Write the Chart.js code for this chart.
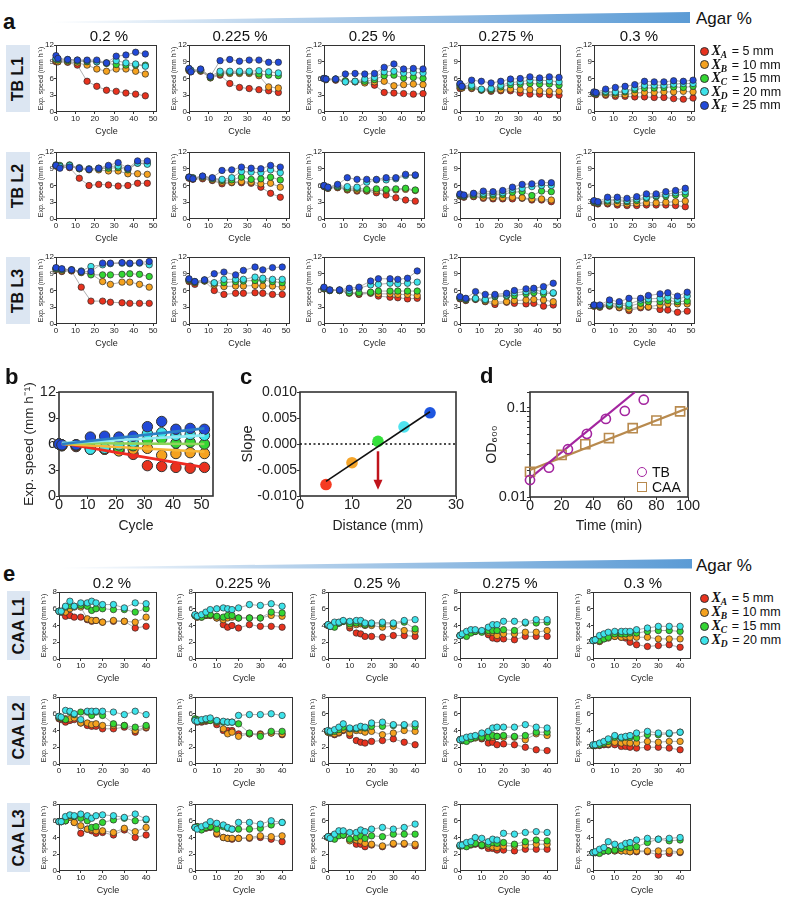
<!DOCTYPE html>
<html><head><meta charset="utf-8">
<script src="https://cdn.jsdelivr.net/npm/chart.js@4.4.1/dist/chart.umd.min.js"></script>
<style>
body{margin:0;background:#fff;width:785px;height:900px;position:relative;overflow:hidden;font-family:"Liberation Sans",Arial,Helvetica,sans-serif;color:#111;}
canvas{position:absolute;}
.plab{position:absolute;font-weight:bold;font-size:22px;line-height:22px;}
.colh{position:absolute;font-size:15px;line-height:15px;transform:translate(-50%,-50%);white-space:nowrap;}
.agar{position:absolute;font-size:17px;line-height:17px;transform:translateY(-50%);white-space:nowrap;}
.rowl{position:absolute;background:#dce6f2;}
.rowl span{position:absolute;left:50%;top:50%;transform:translate(-50%,-50%) rotate(-90deg);font-weight:bold;font-size:16px;line-height:16px;white-space:nowrap;}
.leg{position:absolute;transform:translateY(-50%);display:flex;align-items:center;white-space:nowrap;height:14px;}
.dot{width:9px;height:9px;border-radius:50%;border:1px solid #333;box-sizing:border-box;margin-right:3px;}
.xv{font-family:"Liberation Serif","Times New Roman",serif;font-weight:bold;font-style:italic;font-size:14px;line-height:14px;}
.xv sub{font-size:9.5px;vertical-align:-3px;line-height:0;}
.eq{font-size:12.5px;line-height:14px;margin-left:1px;}
.dleg{position:absolute;display:flex;align-items:center;transform:translateY(-50%);font-size:14px;white-space:nowrap;}
</style></head><body>
<svg style="position:absolute;left:0;top:0" width="785" height="900">
<defs><linearGradient id="gw" x1="0" x2="1" y1="0" y2="0"><stop offset="0" stop-color="#ffffff"/><stop offset="0.35" stop-color="#b9d3ec"/><stop offset="1" stop-color="#5b9bd5"/></linearGradient></defs>
<polygon points="52,21.5 690,12 690,23 52,23" fill="url(#gw)"/>
<polygon points="60,567.5 692,559 692,568.5 60,568.5" fill="url(#gw)"/>
</svg>
<script>
// ---------------- DATA ----------------
const agarLabels = ['0.2 %', '0.225 %', '0.25 %', '0.275 %', '0.3 %'];
const tbRowLabels = ['TB L1', 'TB L2', 'TB L3'];
const caaRowLabels = ['CAA L1', 'CAA L2', 'CAA L3'];
const legendLetters = ['A', 'B', 'C', 'D', 'E'];
const legendDistances = [5, 10, 15, 20, 25];

const tbCycL1 = [0, 1, 6, 11, 16, 21, 26, 31, 36, 41, 46];
const tbCycL1b = [0, 1, 6, 11, 16, 21, 26, 31, 36, 41, 46, 51];
const tbCycL2 = [0, 2, 7, 12, 17, 22, 27, 32, 37, 42, 47];
const tbCycL3 = [0, 3, 8, 13, 18, 24, 28, 34, 38, 43, 48];
const caaCycles = [0, 1, 3, 5, 7, 10, 13, 15, 17, 20, 25, 30, 35, 40];

// TB series order: X_A (5 mm), X_B, X_C, X_D, X_E (25 mm)
const tbL1_020 = [
  [9.0, 9.0, 8.9, 8.4, 5.5, 4.6, 3.9, 3.7, 3.4, 3.2, 2.9],
  [9.2, 9.0, 9.0, 8.8, 8.4, 7.7, 7.3, 7.7, 7.7, 7.3, 6.8],
  [9.5, 9.3, 9.2, 9.1, 9.0, 9.0, 8.7, 8.5, 8.4, 8.4, 8.4],
  [9.6, 9.5, 9.4, 9.3, 9.2, 9.0, 8.8, 9.2, 8.8, 8.6, 8.2],
  [10.1, 9.6, 9.4, 9.3, 9.3, 9.3, 8.8, 10.0, 10.2, 10.7, 10.4]];
const tbL1_0225 = [
  [7.4, 7.2, 7.3, 6.1, 6.6, 5.1, 4.4, 4.2, 4.0, 3.8, 3.5],
  [7.5, 7.3, 7.4, 6.2, 6.8, 6.9, 6.9, 6.9, 6.5, 4.5, 4.3],
  [7.6, 7.4, 7.5, 6.2, 7.0, 7.1, 7.1, 7.1, 6.8, 6.6, 6.5],
  [7.8, 7.5, 7.6, 6.4, 7.3, 7.3, 7.3, 7.3, 7.4, 7.2, 7.0],
  [7.8, 7.2, 7.7, 6.4, 9.2, 9.4, 9.1, 9.3, 9.3, 8.9, 8.9]];
const tbL1_025 = [
  [6.0, 5.8, 5.7, 5.4, 5.4, 5.3, 4.8, 3.5, 3.4, 3.3, 3.2, 3.3],
  [6.0, 5.8, 5.8, 5.5, 5.4, 5.2, 5.4, 5.5, 4.7, 4.9, 5.0, 4.9],
  [6.0, 5.9, 5.9, 5.6, 5.5, 5.5, 5.8, 6.5, 6.6, 6.1, 6.2, 6.0],
  [6.0, 5.9, 5.9, 5.4, 5.5, 5.9, 6.2, 7.2, 7.3, 7.0, 7.1, 7.0],
  [6.0, 5.9, 5.9, 6.8, 6.9, 6.8, 6.9, 8.0, 8.6, 7.7, 7.8, 7.7]];
const tbL1_0275 = [
  [4.2, 4.3, 4.2, 3.9, 3.7, 3.8, 3.8, 3.4, 3.2, 3.2, 3.1, 3.0],
  [4.5, 4.3, 4.3, 4.0, 3.9, 4.0, 4.1, 4.0, 4.0, 3.8, 3.7, 3.7],
  [4.8, 4.5, 4.5, 4.0, 4.0, 4.5, 4.9, 5.0, 5.1, 5.0, 5.0, 4.8],
  [5.0, 4.6, 4.8, 4.1, 4.2, 4.8, 5.3, 5.4, 5.7, 5.7, 5.6, 5.4],
  [5.1, 4.6, 5.7, 5.5, 5.2, 5.5, 5.9, 6.0, 6.3, 6.1, 6.3, 6.2]];
const tbL1_030 = [
  [3.3, 3.1, 3.0, 2.8, 2.8, 2.7, 2.7, 2.6, 2.6, 2.4, 2.3, 2.5],
  [3.3, 3.2, 3.2, 3.1, 3.1, 3.4, 3.5, 3.5, 3.6, 3.6, 3.7, 3.6],
  [3.4, 3.3, 3.5, 3.4, 3.6, 4.0, 4.3, 4.3, 4.4, 4.5, 4.4, 4.6],
  [3.5, 3.4, 3.7, 3.6, 3.8, 4.3, 4.8, 4.8, 4.8, 5.0, 5.1, 5.1],
  [3.6, 3.5, 4.1, 4.4, 4.6, 4.9, 5.5, 5.4, 5.4, 5.6, 5.5, 5.7]];
const tbL2_020 = [
  [9.5, 9.3, 9.2, 7.3, 6.0, 6.2, 6.1, 5.9, 6.0, 6.4, 6.4],
  [9.5, 9.4, 9.5, 9.0, 8.8, 8.8, 8.6, 8.6, 8.1, 8.1, 8.0],
  [9.7, 9.6, 9.7, 9.0, 8.9, 9.0, 9.1, 9.2, 8.8, 10.0, 10.0],
  [9.6, 9.4, 9.6, 9.2, 9.0, 9.1, 9.4, 9.5, 9.0, 10.0, 9.8],
  [9.6, 9.1, 9.3, 9.1, 8.9, 9.1, 9.6, 10.1, 9.1, 10.4, 10.4]];
const tbL2_0225 = [
  [7.3, 7.1, 7.2, 6.9, 6.3, 6.5, 6.5, 6.4, 5.7, 4.6, 3.9],
  [7.4, 7.2, 7.4, 7.0, 6.6, 6.6, 6.7, 6.6, 6.3, 6.4, 5.7],
  [7.5, 7.4, 7.6, 7.2, 6.9, 7.0, 7.5, 7.1, 7.2, 7.5, 7.0],
  [7.5, 7.3, 7.6, 7.3, 7.1, 7.4, 8.5, 8.4, 8.3, 8.8, 8.3],
  [7.5, 7.2, 7.7, 7.4, 8.7, 8.8, 9.3, 9.1, 9.0, 9.6, 9.3]];
const tbL2_025 = [
  [5.8, 5.5, 5.6, 5.2, 5.0, 5.0, 4.7, 4.3, 3.8, 3.4, 3.2],
  [5.9, 5.5, 5.7, 5.3, 5.2, 5.1, 5.1, 5.1, 5.2, 5.3, 5.1],
  [5.9, 5.6, 5.8, 5.5, 5.5, 5.3, 5.4, 5.3, 5.4, 5.5, 5.2],
  [6.0, 5.7, 6.0, 5.8, 5.7, 6.6, 7.0, 7.0, 7.2, 7.8, 7.8],
  [6.0, 5.7, 6.2, 7.4, 7.1, 7.1, 7.1, 7.4, 7.4, 8.0, 7.9]];
const tbL2_0275 = [
  [4.1, 3.9, 4.0, 3.7, 3.6, 3.6, 3.6, 3.7, 3.4, 3.4, 3.1],
  [4.2, 4.0, 4.1, 3.9, 3.8, 3.8, 3.9, 3.8, 3.6, 3.6, 3.4],
  [4.3, 4.1, 4.3, 4.3, 4.3, 4.4, 4.8, 4.9, 4.2, 5.0, 4.9],
  [4.4, 4.2, 4.5, 4.6, 4.6, 4.7, 5.3, 5.5, 5.8, 6.0, 6.0],
  [4.5, 4.3, 4.6, 5.0, 4.9, 5.1, 5.7, 6.2, 6.3, 6.5, 6.5]];
const tbL2_030 = [
  [2.9, 2.7, 2.7, 2.5, 2.4, 2.4, 2.5, 2.5, 2.5, 2.4, 2.2],
  [3.0, 2.8, 2.9, 2.8, 2.7, 2.8, 2.9, 2.9, 3.0, 3.1, 3.2],
  [3.1, 2.9, 3.2, 3.3, 3.1, 3.3, 3.7, 4.0, 4.1, 4.3, 4.4],
  [3.2, 3.0, 3.4, 3.5, 3.3, 3.6, 3.9, 4.2, 4.4, 4.7, 4.9],
  [3.3, 3.1, 3.9, 3.9, 3.7, 4.0, 4.5, 4.5, 4.9, 5.1, 5.5]];
const tbL3_020 = [
  [9.8, 9.4, 9.5, 6.6, 4.1, 4.1, 3.9, 3.8, 3.7, 3.7, 3.7],
  [9.8, 9.5, 9.6, 9.2, 9.0, 7.6, 7.1, 7.5, 7.5, 7.1, 6.6],
  [9.9, 9.7, 9.7, 9.3, 8.8, 8.8, 8.8, 8.9, 9.0, 8.9, 8.5],
  [10.0, 9.8, 9.7, 9.5, 10.3, 10.6, 10.8, 10.9, 10.8, 10.9, 10.6],
  [10.1, 9.9, 9.7, 9.4, 9.4, 10.9, 10.9, 11.0, 10.9, 11.0, 11.2]];
const tbL3_0225 = [
  [7.6, 7.1, 7.7, 6.0, 5.3, 5.5, 5.5, 5.6, 5.5, 5.3, 5.3],
  [7.8, 7.4, 7.7, 7.0, 6.7, 6.8, 6.8, 6.9, 6.8, 6.8, 6.6],
  [7.9, 7.5, 7.8, 7.3, 7.4, 7.6, 7.7, 7.8, 7.9, 7.6, 7.4],
  [8.0, 7.6, 7.9, 7.4, 8.0, 8.0, 8.0, 8.4, 8.2, 8.0, 8.0],
  [8.1, 7.6, 7.9, 9.0, 9.3, 8.8, 9.6, 10.2, 9.7, 10.1, 10.2]];
const tbL3_025 = [
  [6.3, 6.0, 6.0, 5.6, 5.3, 5.5, 5.0, 4.8, 4.7, 4.5, 4.6],
  [6.3, 6.0, 6.0, 5.5, 5.4, 5.6, 5.4, 5.4, 5.3, 5.3, 5.1],
  [6.4, 6.0, 6.0, 5.6, 5.6, 5.7, 5.9, 5.9, 5.9, 5.9, 5.9],
  [6.5, 6.1, 6.1, 6.0, 6.4, 7.0, 7.1, 7.3, 7.2, 7.3, 7.5],
  [6.6, 6.1, 6.1, 6.4, 6.6, 7.7, 8.1, 8.1, 8.0, 8.2, 9.5]];
const tbL3_0275 = [
  [4.5, 4.2, 4.4, 4.0, 3.5, 3.9, 3.7, 3.6, 3.7, 3.2, 3.4],
  [4.6, 4.3, 4.5, 4.1, 3.9, 4.0, 4.2, 4.3, 4.4, 4.3, 4.0],
  [4.7, 4.4, 4.5, 4.3, 4.9, 5.0, 5.1, 5.4, 5.6, 5.4, 5.5],
  [4.8, 4.5, 4.6, 4.4, 5.1, 5.2, 5.6, 5.8, 6.1, 5.8, 5.6],
  [4.9, 4.6, 5.8, 5.3, 5.3, 5.5, 6.0, 6.3, 6.4, 6.7, 7.3]];
const tbL3_030 = [
  [3.2, 3.0, 3.2, 2.9, 2.4, 2.9, 3.0, 2.6, 2.5, 2.1, 2.3],
  [3.2, 3.1, 3.3, 3.0, 2.7, 3.1, 3.1, 3.4, 3.6, 3.6, 3.6],
  [3.3, 3.2, 3.4, 3.4, 3.2, 3.7, 4.0, 4.0, 4.2, 4.0, 4.1],
  [3.4, 3.3, 3.7, 3.6, 3.6, 4.3, 4.5, 4.6, 4.8, 4.4, 5.0],
  [3.4, 3.4, 4.3, 4.0, 4.6, 4.6, 5.1, 5.4, 5.6, 5.0, 5.7]];

// CAA series order: X_A (5 mm), X_B, X_C, X_D (20 mm)
const caaL1_020 = [
  [5.7, 5.6, 5.1, 5.2, 5.0, 5.0, 4.7, 4.5, 4.6, 4.4, 4.5, 4.5, 3.7, 3.9],
  [5.7, 5.6, 5.6, 6.0, 6.2, 6.2, 4.8, 4.6, 4.6, 4.4, 4.6, 4.5, 4.4, 5.0],
  [5.7, 5.7, 6.2, 6.4, 6.3, 6.4, 6.3, 5.8, 6.0, 6.0, 5.9, 5.9, 5.6, 6.0],
  [5.7, 5.7, 6.3, 6.9, 6.3, 6.7, 6.7, 6.9, 6.7, 6.5, 6.5, 6.1, 6.7, 6.6]];
const caaL1_0225 = [
  [5.2, 5.0, 5.1, 5.2, 5.2, 4.9, 4.1, 3.8, 4.0, 3.7, 4.1, 3.9, 3.9, 3.8],
  [5.2, 5.0, 5.0, 5.2, 5.2, 4.9, 4.7, 4.9, 5.0, 4.9, 4.9, 4.9, 5.2, 5.1],
  [5.2, 5.1, 5.0, 5.3, 5.3, 5.1, 5.0, 5.2, 5.2, 4.9, 4.9, 4.9, 5.6, 5.5],
  [5.3, 5.1, 5.3, 5.6, 5.9, 6.0, 6.1, 6.0, 5.9, 6.1, 6.5, 6.4, 6.6, 6.3]];
const caaL1_025 = [
  [4.0, 3.9, 4.2, 4.3, 4.5, 3.7, 3.1, 3.0, 2.7, 2.7, 2.6, 2.8, 2.8, 2.7],
  [4.0, 3.9, 4.2, 4.3, 4.5, 4.0, 4.1, 4.2, 4.0, 4.0, 3.8, 3.9, 3.4, 3.3],
  [4.1, 4.0, 3.8, 4.3, 4.5, 4.2, 4.3, 4.4, 4.1, 4.2, 4.2, 4.2, 4.4, 3.6],
  [4.1, 3.9, 4.4, 4.4, 4.6, 4.5, 4.6, 4.6, 4.3, 4.3, 4.4, 4.3, 4.6, 4.7]];
const caaL1_0275 = [
  [2.8, 2.9, 3.0, 3.2, 3.3, 3.3, 2.9, 2.5, 2.4, 2.4, 2.3, 2.7, 2.7, 2.7],
  [2.8, 2.9, 3.1, 3.2, 3.3, 3.3, 3.2, 3.2, 2.8, 3.0, 3.0, 3.2, 3.2, 3.4],
  [2.8, 2.9, 2.7, 3.1, 3.3, 3.2, 3.4, 3.4, 3.4, 3.5, 3.4, 4.3, 4.3, 4.4],
  [2.8, 3.0, 3.3, 3.5, 3.5, 3.4, 3.8, 4.1, 4.1, 4.5, 4.5, 4.4, 4.7, 4.7]];
const caaL1_030 = [
  [2.2, 2.3, 2.1, 2.4, 2.6, 2.7, 2.6, 2.5, 2.0, 1.7, 1.5, 1.6, 1.7, 1.4],
  [2.2, 2.3, 2.1, 2.5, 2.5, 2.7, 2.6, 2.7, 2.6, 2.6, 2.6, 2.4, 2.4, 2.4],
  [2.2, 2.3, 2.2, 2.4, 2.6, 3.0, 3.0, 3.0, 3.1, 3.1, 3.3, 3.4, 3.4, 3.3],
  [2.2, 2.3, 2.8, 3.0, 3.2, 3.3, 3.3, 3.3, 3.3, 3.5, 3.7, 3.9, 3.9, 3.9]];
const caaL2_020 = [
  [5.4, 5.3, 5.0, 5.2, 5.3, 4.9, 4.6, 4.5, 4.5, 4.2, 4.2, 4.4, 3.8, 4.3],
  [5.5, 5.5, 5.4, 5.4, 5.5, 4.9, 4.9, 4.7, 4.8, 4.6, 4.6, 4.6, 4.0, 4.4],
  [5.6, 5.5, 5.3, 6.2, 5.9, 6.2, 6.2, 5.8, 6.2, 5.8, 4.8, 4.6, 4.4, 4.6],
  [5.7, 5.6, 6.4, 6.3, 6.0, 5.3, 6.3, 6.3, 6.3, 6.3, 6.2, 5.9, 6.3, 5.9]];
const caaL2_0225 = [
  [5.2, 5.0, 5.0, 5.1, 5.2, 4.7, 4.0, 4.0, 4.0, 3.6, 3.6, 3.6, 3.7, 3.5],
  [5.3, 5.1, 5.1, 5.2, 5.3, 5.0, 4.2, 3.6, 3.8, 3.3, 3.6, 3.5, 3.7, 3.6],
  [5.4, 5.3, 5.2, 5.3, 5.2, 5.1, 5.0, 5.0, 5.0, 4.8, 3.7, 3.3, 3.9, 3.9],
  [5.2, 5.1, 5.3, 5.4, 5.5, 5.2, 5.1, 5.0, 5.0, 5.8, 5.9, 5.9, 6.0, 5.8]];
const caaL2_025 = [
  [3.8, 3.7, 3.5, 3.7, 4.0, 3.4, 2.8, 2.6, 2.5, 2.7, 2.8, 3.0, 2.6, 2.3],
  [3.8, 3.8, 3.6, 3.8, 4.1, 3.7, 4.0, 4.0, 3.8, 3.9, 3.5, 3.7, 4.0, 3.9],
  [3.9, 3.8, 3.9, 4.1, 4.4, 4.2, 4.2, 4.4, 4.3, 4.5, 4.5, 4.6, 4.6, 4.5],
  [4.0, 3.9, 4.1, 4.4, 4.8, 4.3, 4.3, 4.5, 4.4, 4.9, 5.0, 4.7, 4.7, 4.8]];
const caaL2_0275 = [
  [2.9, 2.8, 3.0, 3.1, 3.2, 3.0, 2.5, 2.6, 2.3, 2.4, 2.3, 2.0, 1.7, 1.6],
  [2.9, 2.9, 2.9, 3.0, 3.1, 3.1, 3.3, 3.2, 3.3, 3.2, 3.2, 2.9, 3.6, 3.4],
  [2.9, 2.8, 2.7, 3.0, 3.2, 3.2, 3.2, 3.4, 3.3, 3.4, 3.3, 3.4, 3.8, 3.8],
  [2.9, 3.0, 3.2, 3.3, 3.4, 3.7, 3.9, 4.3, 4.4, 4.4, 4.4, 4.7, 4.4, 4.3]];
const caaL2_030 = [
  [2.2, 2.2, 2.2, 2.3, 2.3, 2.3, 2.1, 2.1, 2.0, 1.9, 2.0, 2.0, 1.9, 1.7],
  [2.2, 2.2, 2.3, 2.4, 2.4, 2.6, 2.5, 2.6, 2.5, 2.5, 2.7, 2.6, 2.7, 2.7],
  [2.2, 2.3, 2.3, 2.5, 2.7, 3.2, 3.1, 3.2, 3.2, 3.1, 3.5, 3.5, 3.6, 3.8],
  [2.3, 2.3, 2.5, 2.7, 3.0, 3.4, 3.2, 3.3, 3.4, 3.7, 3.9, 3.7, 3.7, 3.8]];
const caaL3_020 = [
  [5.9, 5.9, 6.0, 6.5, 5.8, 4.5, 5.0, 4.8, 4.5, 4.6, 4.3, 4.9, 4.0, 4.3],
  [5.9, 5.9, 6.0, 6.4, 5.8, 5.4, 5.0, 5.0, 4.8, 4.8, 4.6, 5.1, 4.7, 5.2],
  [5.9, 5.9, 6.0, 6.6, 6.5, 6.3, 6.0, 5.2, 5.3, 5.8, 6.1, 6.3, 6.0, 6.1],
  [5.9, 5.9, 6.5, 6.7, 6.6, 6.8, 6.6, 6.3, 6.6, 6.7, 6.6, 6.4, 6.8, 6.2]];
const caaL3_0225 = [
  [5.2, 5.3, 5.1, 5.1, 5.2, 4.4, 4.0, 3.9, 3.8, 3.9, 3.9, 4.0, 3.8, 3.5],
  [5.2, 5.2, 5.1, 5.2, 5.3, 4.5, 4.0, 3.9, 3.9, 3.9, 4.0, 4.2, 4.1, 4.2],
  [5.2, 5.3, 4.9, 5.2, 5.3, 5.0, 5.3, 5.1, 5.0, 5.0, 5.0, 5.1, 5.5, 5.8],
  [5.2, 5.0, 5.3, 5.5, 5.9, 5.7, 5.5, 5.2, 5.0, 5.8, 5.8, 5.6, 6.0, 5.8]];
const caaL3_025 = [
  [4.0, 4.1, 4.2, 4.3, 4.3, 3.7, 3.2, 3.2, 2.9, 3.1, 2.9, 3.2, 3.2, 3.0],
  [4.0, 4.1, 4.3, 4.3, 4.3, 3.6, 3.7, 3.6, 3.3, 3.2, 3.0, 3.3, 3.3, 3.2],
  [4.1, 3.9, 3.8, 4.2, 4.3, 3.8, 4.0, 4.2, 3.9, 4.2, 4.1, 4.4, 4.4, 4.4],
  [4.1, 3.9, 4.4, 4.8, 4.8, 4.6, 4.6, 4.9, 4.7, 5.0, 5.2, 5.0, 5.2, 5.6]];
const caaL3_0275 = [
  [3.0, 3.1, 3.0, 3.1, 3.2, 3.0, 2.7, 2.7, 2.5, 2.5, 2.4, 2.6, 2.6, 2.6],
  [3.0, 3.1, 3.1, 3.2, 3.3, 3.1, 3.0, 2.9, 2.8, 3.0, 3.0, 3.1, 3.2, 3.2],
  [3.0, 3.0, 2.9, 3.2, 3.3, 3.1, 3.2, 3.4, 3.3, 3.4, 3.2, 3.5, 3.7, 3.6],
  [3.1, 3.1, 3.4, 3.5, 4.0, 3.9, 3.5, 3.8, 3.7, 4.5, 4.4, 4.6, 4.7, 4.6]];
const caaL3_030 = [
  [2.2, 2.2, 2.3, 2.4, 2.4, 2.4, 2.4, 2.4, 2.3, 2.3, 2.3, 1.9, 2.1, 2.2],
  [2.2, 2.2, 2.3, 2.4, 2.4, 2.4, 2.4, 2.4, 2.3, 2.4, 2.4, 2.4, 2.4, 2.3],
  [2.2, 2.2, 2.1, 2.4, 2.4, 2.5, 2.7, 2.9, 2.8, 2.9, 3.4, 3.8, 3.6, 3.7],
  [2.2, 2.3, 2.6, 2.8, 3.5, 3.2, 3.0, 3.3, 3.4, 3.7, 3.9, 3.8, 3.9, 4.0]];

// Panel b: TB L1 0.25 % data with linear fits
const bFitCycles = [1, 51];
const bFitA = [6.1, 3.3];
const bFitB = [6.0, 5.1];
const bFitC = [6.1, 6.0];
const bFitD = [6.1, 7.0];
const bFitE = [6.0, 7.8];

// Panel c
const cDistance = [5, 10, 15, 20, 25];
const cSlope = [-0.0078, -0.0036, 0.0005, 0.0033, 0.0060];
const cFitDistance = [5, 25];
const cFitSlope = [-0.0072, 0.0062];
const cZeroX = [0, 30];
const cZeroY = [0, 0];
const cArrowDistance = 15;
const cArrowFrom = -0.0014;
const cArrowTo = -0.0088;

// Panel d
const dTbTime = [0, 12, 24, 36, 48, 60, 72];
const dTbOD = [0.0155, 0.0213, 0.0343, 0.051, 0.075, 0.092, 0.123];
const dCaaTime = [0, 20, 35, 50, 65, 80, 95];
const dCaaOD = [0.0192, 0.0296, 0.039, 0.0457, 0.059, 0.072, 0.091];
const dTbFitTime = [0, 66.5];
const dTbFitOD = [0.0163, 0.15];
const dCaaFitTime = [0, 100];
const dCaaFitOD = [0.0201, 0.099];

// ---------------- STYLE / LAYOUT ----------------
const seriesColors = ['#E8321E', '#F5A21F', '#33D633', '#3DE3EA', '#2149D8'];
const cColors = ['#F53B22', '#F5A52A', '#36E03B', '#4FE3F0', '#1E56E0'];
const bFitColors = ['#EE2B22', '#F6B638', '#8FD45A', '#8EE8F0', '#2A7FC4'];
const tbLeft = [56, 189, 324, 460, 594], tbTop = [45, 152, 257], tbW = 101, tbH = 67;
const caaLeft = [59, 195, 328, 460, 593], caaTop = [592, 697, 804], caaW = 98, caaH = 67;

Chart.defaults.font.family = '"Liberation Sans", Arial, Helvetica, sans-serif';
Chart.defaults.color = '#222';
Chart.defaults.animation = false;
Chart.defaults.events = [];
Chart.defaults.plugins.legend.display = false;
Chart.defaults.plugins.tooltip.enabled = false;

const framePlugin = {
  id: 'frame',
  defaults: {width: 1, color: '#333', offset: 0.5},
  beforeDatasetsDraw(chart, args, o) {
    const a = chart.chartArea, ctx = chart.ctx;
    ctx.save();
    ctx.strokeStyle = o.color; ctx.lineWidth = o.width;
    const l = Math.round(a.left) + o.offset, t = Math.round(a.top) + o.offset;
    const r = Math.round(a.right) - o.offset, b = Math.round(a.bottom) - o.offset;
    ctx.strokeRect(l, t, r - l, b - t);
    ctx.restore();
  }
};
Chart.register(framePlugin);

const arrowPlugin = {
  id: 'arrow',
  afterDatasetsDraw(chart, args, o) {
    const xs = chart.scales.x, ys = chart.scales.y, ctx = chart.ctx;
    const x = xs.getPixelForValue(o.x), y1 = ys.getPixelForValue(o.y1), y2 = ys.getPixelForValue(o.y2);
    ctx.save();
    ctx.strokeStyle = o.color; ctx.fillStyle = o.color; ctx.lineWidth = 2.5;
    ctx.beginPath(); ctx.moveTo(x, y1); ctx.lineTo(x, y2 - 8); ctx.stroke();
    ctx.beginPath(); ctx.moveTo(x - 4.5, y2 - 10); ctx.lineTo(x + 4.5, y2 - 10); ctx.lineTo(x, y2); ctx.closePath(); ctx.fill();
    ctx.restore();
  }
};

function axis(opt) {
  return {
    type: opt.type || 'linear', min: opt.min, max: opt.max,
    ticks: Object.assign({stepSize: opt.step, includeBounds: false, autoSkip: false, maxRotation: 0,
      font: {size: opt.tickSize, lineHeight: opt.lh || 1.2}, padding: opt.pad || 0, color: '#222'}, opt.ticks || {}),
    grid: {display: true, drawOnChartArea: false, drawTicks: true, tickLength: opt.tl, tickColor: '#333', tickWidth: 1},
    border: {display: false},
    title: {display: true, text: opt.title, font: {size: opt.titleSize}, padding: {top: 0, bottom: 0}, color: '#222'}
  };
}

function makeChart(box, pad, config) {
  const c = document.createElement('canvas');
  const w = box.w + pad.l + pad.r, h = box.h + pad.t + pad.b;
  c.width = w; c.height = h;
  c.style.left = (box.x - pad.l) + 'px'; c.style.top = (box.y - pad.t) + 'px';
  c.style.width = w + 'px'; c.style.height = h + 'px';
  document.body.appendChild(c);
  config.options.responsive = false;
  config.options.devicePixelRatio = 1;
  config.options.layout = {padding: {top: pad.t, right: pad.r, left: 0, bottom: 0}};
  config.options.scales.x.afterFit = s => { s.height = pad.b; };
  config.options.scales.y.afterFit = s => { s.width = pad.l; };
  return new Chart(c, config);
}

function smallChart(box, cycles, series, xMax, yMax, yStep) {
  const n = series.length;
  const datasets = series.map((vals, i) => ({
    data: cycles.map((c, j) => ({x: c, y: vals[j]})),
    showLine: true, borderColor: '#9a9a9a', borderWidth: 0.8,
    pointRadius: 3.2, pointBackgroundColor: seriesColors[i], pointBorderColor: '#2b2b2b', pointBorderWidth: 0.7,
    order: n - 1 - i, clip: false
  }));
  return makeChart(box, {l: 19, t: 8, r: 8, b: 25}, {
    type: 'scatter', data: {datasets},
    options: {
      scales: {
        x: axis({min: 0, max: xMax, step: 10, tickSize: 8, tl: 2, title: 'Cycle', titleSize: 9}),
        y: axis({min: 0, max: yMax, step: yStep, tickSize: 8, tl: 2, title: 'Exp. speed (mm h⁻¹)', titleSize: 7})
      }
    }
  });
}

// ---------------- PANEL a ----------------
const tbData = [
  [tbL1_020, tbL1_0225, tbL1_025, tbL1_0275, tbL1_030],
  [tbL2_020, tbL2_0225, tbL2_025, tbL2_0275, tbL2_030],
  [tbL3_020, tbL3_0225, tbL3_025, tbL3_0275, tbL3_030]];
const tbCycles = [
  [tbCycL1, tbCycL1, tbCycL1b, tbCycL1b, tbCycL1b],
  [tbCycL2, tbCycL2, tbCycL2, tbCycL2, tbCycL2],
  [tbCycL3, tbCycL3, tbCycL3, tbCycL3, tbCycL3]];
tbData.forEach((row, r) => row.forEach((series, c) => {
  smallChart({x: tbLeft[c], y: tbTop[r], w: tbW, h: tbH}, tbCycles[r][c], series, 52, 12, 3);
}));

// ---------------- PANEL e ----------------
const caaData = [
  [caaL1_020, caaL1_0225, caaL1_025, caaL1_0275, caaL1_030],
  [caaL2_020, caaL2_0225, caaL2_025, caaL2_0275, caaL2_030],
  [caaL3_020, caaL3_0225, caaL3_025, caaL3_0275, caaL3_030]];
caaData.forEach((row, r) => row.forEach((series, c) => {
  smallChart({x: caaLeft[c], y: caaTop[r], w: caaW, h: caaH}, caaCycles, series, 45, 8, 2);
}));

// ---------------- PANEL b ----------------
(function () {
  const fits = [bFitA, bFitB, bFitC, bFitD, bFitE];
  const ds = [];
  fits.forEach((f, i) => ds.push({
    data: bFitCycles.map((c, j) => ({x: c, y: f[j]})), showLine: true,
    borderColor: bFitColors[i], borderWidth: 2.6, pointRadius: 0, order: 4 - i
  }));
  tbL1_025.forEach((vals, i) => ds.push({
    data: tbCycL1b.map((c, j) => ({x: c, y: vals[j]})), showLine: false,
    pointRadius: 5.2, pointBackgroundColor: seriesColors[i], pointBorderColor: '#333', pointBorderWidth: 1,
    order: 14 - i, clip: false
  }));
  makeChart({x: 59, y: 392, w: 154, h: 104}, {l: 38, t: 10, r: 10, b: 39}, {
    type: 'scatter', data: {datasets: ds},
    options: {
      plugins: {frame: {width: 1.6, offset: 0}},
      scales: {
        x: axis({min: 0, max: 54, step: 10, tickSize: 14.5, lh: 1, tl: 3, pad: -1, title: 'Cycle', titleSize: 14}),
        y: axis({min: 0, max: 12, step: 3, tickSize: 14.5, tl: 3, title: 'Exp. speed (mm h⁻¹)', titleSize: 13.5})
      }
    }
  });
})();

// ---------------- PANEL c ----------------
(function () {
  const ds = [
    {data: cDistance.map((d, j) => ({x: d, y: cSlope[j]})), showLine: false, pointRadius: 5.8,
     pointBackgroundColor: cColors, pointBorderColor: cColors, pointBorderWidth: 0, order: 2, clip: false},
    {data: cFitDistance.map((d, j) => ({x: d, y: cFitSlope[j]})), showLine: true, borderColor: '#111',
     borderWidth: 1.6, pointRadius: 0, order: 1},
    {data: cZeroX.map((d, j) => ({x: d, y: cZeroY[j]})), showLine: true, borderColor: '#111',
     borderWidth: 1.3, borderDash: [2, 2.5], pointRadius: 0, order: 3}
  ];
  makeChart({x: 300, y: 392, w: 156, h: 104}, {l: 61, t: 10, r: 12, b: 39}, {
    type: 'scatter', data: {datasets: ds}, plugins: [arrowPlugin],
    options: {
      plugins: {frame: {width: 1.6, offset: 0}, arrow: {x: cArrowDistance, y1: cArrowFrom, y2: cArrowTo, color: '#C0141C'}},
      scales: {
        x: axis({min: 0, max: 30, step: 10, tickSize: 14.5, lh: 1, tl: 3, pad: -1, title: 'Distance (mm)', titleSize: 14}),
        y: axis({min: -0.01, max: 0.01, step: 0.005, tickSize: 14, tl: 3, title: 'Slope', titleSize: 14.5,
          ticks: {callback: v => Math.abs(v) < 1e-9 ? '0.000' : v.toFixed(3)}})
      }
    }
  });
})();

// ---------------- PANEL d ----------------
(function () {
  const purple = '#A3259F', brown = '#B88A4E';
  const ds = [
    {data: dTbFitTime.map((t, j) => ({x: t, y: dTbFitOD[j]})), showLine: true, borderColor: purple, borderWidth: 2.2, pointRadius: 0, order: 3},
    {data: dCaaFitTime.map((t, j) => ({x: t, y: dCaaFitOD[j]})), showLine: true, borderColor: brown, borderWidth: 2.2, pointRadius: 0, order: 4},
    {data: dTbTime.map((t, j) => ({x: t, y: dTbOD[j]})), showLine: false, pointStyle: 'circle', pointRadius: 4.6,
     pointBackgroundColor: 'rgba(255,255,255,0)', pointBorderColor: purple, pointBorderWidth: 1.6, order: 1, clip: false},
    {data: dCaaTime.map((t, j) => ({x: t, y: dCaaOD[j]})), showLine: false, pointStyle: 'rect', pointRadius: 6.4,
     pointBackgroundColor: 'rgba(255,255,255,0)', pointBorderColor: brown, pointBorderWidth: 1.6, order: 2, clip: false}
  ];
  makeChart({x: 530, y: 392, w: 158, h: 105}, {l: 46, t: 10, r: 14, b: 38}, {
    type: 'scatter', data: {datasets: ds},
    options: {
      plugins: {frame: {width: 1.6, offset: 0}},
      scales: {
        x: axis({min: 0, max: 100, step: 20, tickSize: 14.5, lh: 1, tl: 3, pad: -1, title: 'Time (min)', titleSize: 14}),
        y: axis({type: 'logarithmic', min: 0.01, max: 0.15, tickSize: 14.5, tl: 3, title: 'OD₆₀₀', titleSize: 14,
          ticks: {callback: v => { const l = Math.log10(v); return Math.abs(l - Math.round(l)) < 1e-6 ? String(+v.toPrecision(1)) : ''; }}})
      }
    }
  });
  // legend for d
  const items = [['TB', 'circle', purple, 472], ['CAA', 'square', brown, 487]];
  items.forEach(([label, shape, col, y]) => {
    const d = document.createElement('div');
    d.className = 'dleg'; d.style.left = '637px'; d.style.top = y + 'px';
    const mk = shape === 'circle'
      ? `<span style="display:inline-block;width:10px;height:10px;border:1.6px solid ${col};border-radius:50%;box-sizing:border-box;margin-right:5px"></span>`
      : `<span style="display:inline-block;width:10px;height:10px;border:1.6px solid ${col};box-sizing:border-box;margin-right:5px"></span>`;
    d.innerHTML = mk + '<span>' + label + '</span>';
    document.body.appendChild(d);
  });
})();

// ---------------- TEXT / LABELS ----------------
function addDiv(cls, html, css) {
  const d = document.createElement('div');
  d.className = cls; d.innerHTML = html;
  Object.assign(d.style, css);
  document.body.appendChild(d);
  return d;
}
addDiv('plab', 'a', {left: '3px', top: '11px'});
addDiv('plab', 'b', {left: '5px', top: '366px'});
addDiv('plab', 'c', {left: '240px', top: '366px'});
addDiv('plab', 'd', {left: '480px', top: '365px'});
addDiv('plab', 'e', {left: '3px', top: '563px'});
addDiv('agar', 'Agar %', {left: '696px', top: '18px'});
addDiv('agar', 'Agar %', {left: '696px', top: '565px'});

const tbHeadX = [109, 240, 372, 506, 639];
const caaHeadX = [112, 243, 377, 510, 643];
agarLabels.forEach((t, i) => {
  addDiv('colh', t, {left: tbHeadX[i] + 'px', top: '35px'});
  addDiv('colh', t, {left: caaHeadX[i] + 'px', top: '582px'});
});
tbRowLabels.forEach((t, i) => addDiv('rowl', '<span>' + t + '</span>',
  {left: '6px', top: tbTop[i] + 'px', width: '24px', height: tbH + 'px'}));
caaRowLabels.forEach((t, i) => addDiv('rowl', '<span>' + t + '</span>',
  {left: '7px', top: (caaTop[i] - 1) + 'px', width: '23px', height: (caaH + 2) + 'px'}));

function legend(ys, count) {
  for (let i = 0; i < count; i++) {
    addDiv('leg',
      `<span class="dot" style="background:${seriesColors[i]}"></span><span class="xv">X<sub>${legendLetters[i]}</sub></span><span class="eq">&nbsp;= ${legendDistances[i]} mm</span>`,
      {left: '699.5px', top: ys[i] + 'px'});
  }
}
legend([51, 64.5, 78, 91.5, 105], 5);
legend([598, 612, 626, 640], 4);
</script>
</body></html>
